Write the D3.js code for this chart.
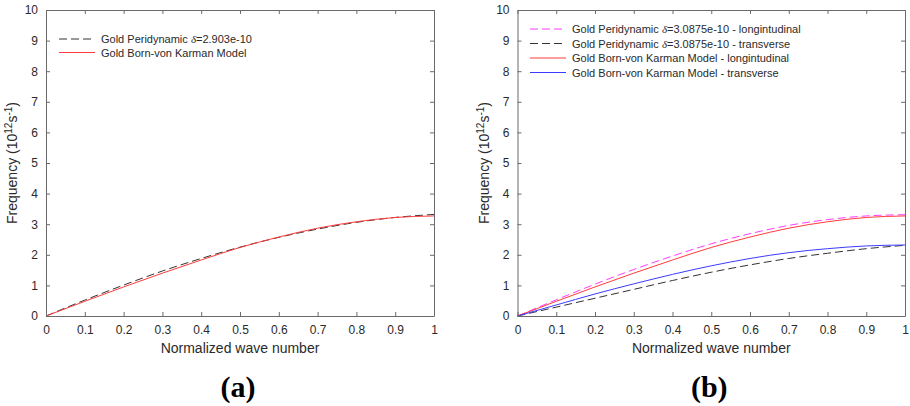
<!DOCTYPE html>
<html>
<head>
<meta charset="utf-8">
<script src="https://cdn.jsdelivr.net/npm/d3@7"></script>
<style>
  body { margin: 0; background: #fff; }
  svg { font-family: "Liberation Sans", Arial, sans-serif; }
</style>
</head>
<body>
<svg id="chart" width="910" height="406"></svg>
<script>
// wave numbers
const kValues = [0, 0.1, 0.2, 0.3, 0.4, 0.5, 0.6, 0.7, 0.8, 0.9, 1.0];

// panel (a)
const periA = [0, 0.52, 1.01, 1.47, 1.88, 2.25, 2.57, 2.84, 3.06, 3.22, 3.32];
const bvkA  = [0, 0.48, 0.95, 1.40, 1.83, 2.24, 2.58, 2.87, 3.08, 3.22, 3.27];

// panel (b)
const periLong  = [0, 0.53, 1.04, 1.52, 1.96, 2.36, 2.69, 2.96, 3.15, 3.27, 3.31];
const periTrans = [0, 0.29, 0.58, 0.87, 1.16, 1.43, 1.67, 1.88, 2.05, 2.20, 2.31];
const bvkLong   = [0, 0.48, 0.95, 1.40, 1.83, 2.24, 2.58, 2.87, 3.08, 3.22, 3.27];
const bvkTrans  = [0, 0.36, 0.72, 1.05, 1.36, 1.64, 1.88, 2.07, 2.20, 2.29, 2.32];

const xTicks = [0, 0.1, 0.2, 0.3, 0.4, 0.5, 0.6, 0.7, 0.8, 0.9, 1];
const yTicks = [0, 1, 2, 3, 4, 5, 6, 7, 8, 9, 10];

const panels = [
  {
    left: 46, right: 434, tag: "(a)", labelX: 17,
    legend: {x: 59, y: 39, step: 13.5},
    series: [
      {name: "Gold Peridynamic |δ|=2.903e-10", values: periA, color: "#333", dash: "8,4"},
      {name: "Gold Born-von Karman Model", values: bvkA, color: "#ff3b3b", dash: null}
    ]
  },
  {
    left: 517.5, right: 905, tag: "(b)", labelX: 489,
    legend: {x: 530, y: 29, step: 14.5},
    series: [
      {name: "Gold Peridynamic |δ|=3.0875e-10 - longintudinal", values: periLong, color: "#ff3bff", dash: "8,4"},
      {name: "Gold Peridynamic |δ|=3.0875e-10 - transverse", values: periTrans, color: "#333", dash: "8,4"},
      {name: "Gold Born-von Karman Model - longintudinal", values: bvkLong, color: "#ff3b3b", dash: null},
      {name: "Gold Born-von Karman Model - transverse", values: bvkTrans, color: "#3b3bff", dash: null}
    ]
  }
];

const svg = d3.select("#chart");
const plotTop = 10, plotBottom = 316;

panels.forEach(drawPanel);

function drawPanel(p) {
  const x = d3.scaleLinear().domain([0, 1]).range([p.left, p.right]);
  const y = d3.scaleLinear().domain([0, 10]).range([plotBottom, plotTop]);
  const g = svg.append("g");

  // curves
  const line = d3.line().x(d => x(d[0])).y(d => y(d[1])).curve(d3.curveMonotoneX);
  for (let s of p.series) {
    g.append("path")
      .attr("d", line(kValues.map((k, i) => [k, s.values[i]])))
      .attr("fill", "none")
      .attr("stroke", s.color)
      .attr("stroke-width", 1)
      .attr("stroke-dasharray", s.dash);
  }

  // axes: box with inward ticks
  const axisColor = "#6a6a6a";
  const ax = [
    g.append("g").attr("transform", `translate(0,${plotBottom})`).call(d3.axisBottom(x).tickValues(xTicks).tickSizeInner(-4).tickSizeOuter(0).tickPadding(9).tickFormat(d3.format("~g"))),
    g.append("g").attr("transform", `translate(0,${plotTop})`).call(d3.axisTop(x).tickValues(xTicks).tickSizeInner(-4).tickSizeOuter(0).tickFormat("")),
    g.append("g").attr("transform", `translate(${p.left},0)`).call(d3.axisLeft(y).tickValues(yTicks).tickSizeInner(-4).tickSizeOuter(0).tickPadding(8)),
    g.append("g").attr("transform", `translate(${p.right},0)`).call(d3.axisRight(y).tickValues(yTicks).tickSizeInner(-4).tickSizeOuter(0).tickFormat(""))
  ];
  for (let a of ax) {
    a.select(".domain").attr("stroke", axisColor);
    a.selectAll(".tick line").attr("stroke", axisColor);
    a.selectAll(".tick text").attr("font-size", 12).attr("fill", "#2a2a2a")
      .style("font-family", "'Liberation Sans', Arial, sans-serif");
  }

  // axis titles
  g.append("text")
    .attr("x", (p.left + p.right) / 2).attr("y", 353)
    .attr("text-anchor", "middle").attr("font-size", 14).attr("fill", "#2a2a2a")
    .text("Normalized wave number");

  const yl = g.append("text")
    .attr("transform", `translate(${p.labelX},${(plotTop + plotBottom) / 2}) rotate(-90)`)
    .attr("text-anchor", "middle").attr("font-size", 14).attr("fill", "#2a2a2a");
  yl.append("tspan").text("Frequency (10");
  yl.append("tspan").attr("dy", -5).attr("font-size", 10).text("12");
  yl.append("tspan").attr("dy", 5).text("s");
  yl.append("tspan").attr("dy", -5).attr("font-size", 10).text("-1");
  yl.append("tspan").attr("dy", 5).text(")");

  // panel tag
  g.append("text")
    .attr("x", (p.left + p.right) / 2 - 2).attr("y", 397)
    .attr("text-anchor", "middle")
    .style("font-family", "'Liberation Serif', 'Times New Roman', serif")
    .attr("font-weight", "bold").attr("font-size", 30).attr("fill", "#000")
    .text(p.tag);

  // legend
  p.series.forEach((s, i) => {
    const ly = p.legend.y + i * p.legend.step;
    g.append("line")
      .attr("x1", p.legend.x).attr("x2", p.legend.x + 36)
      .attr("y1", ly).attr("y2", ly)
      .attr("stroke", s.color).attr("stroke-dasharray", s.dash);
    const t = g.append("text")
      .attr("x", p.legend.x + 42).attr("y", ly + 4)
      .attr("font-size", 11).attr("fill", "#2a2a2a");
    const parts = s.name.split("|");
    t.append("tspan").text(parts[0]);
    if (parts.length > 1) {
      t.append("tspan").attr("font-style", "italic")
        .style("font-family", "'Liberation Serif', serif").text(parts[1]);
      t.append("tspan").text(parts[2]);
    }
  });
}
</script>
</body>
</html>
